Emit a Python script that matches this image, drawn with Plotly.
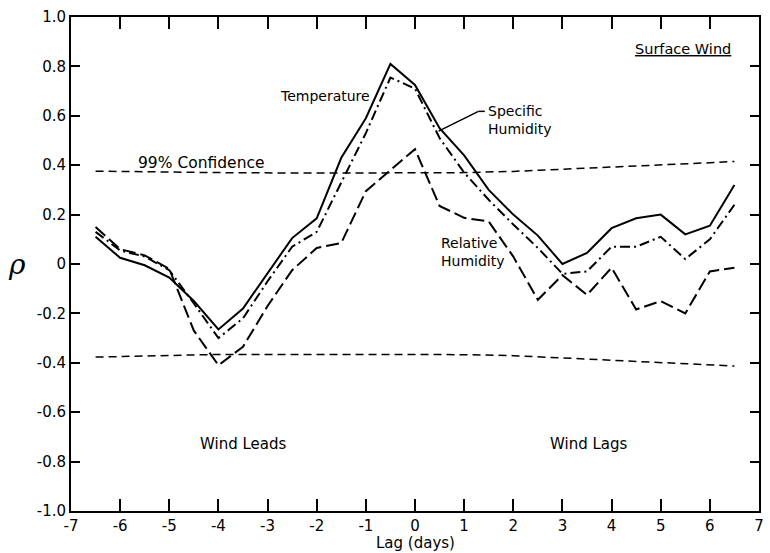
import plotly.graph_objects as go

# ---- data ----
lags = [-6.5, -6, -5.5, -5, -4.5, -4, -3.5, -3, -2.5, -2, -1.5, -1, -0.5,
        0, 0.5, 1, 1.5, 2, 2.5, 3, 3.5, 4, 4.5, 5, 5.5, 6, 6.5]

temperature = [0.11, 0.025, -0.005, -0.055, -0.15, -0.265, -0.18, -0.04, 0.105,
               0.185, 0.43, 0.59, 0.81, 0.725, 0.55, 0.44, 0.30, 0.20, 0.115,
               0.0, 0.045, 0.145, 0.185, 0.20, 0.12, 0.155, 0.32]

specific_humidity = [0.13, 0.055, 0.03, -0.025, -0.16, -0.30, -0.22, -0.07, 0.07,
                     0.13, 0.33, 0.53, 0.755, 0.71, 0.51, 0.37, 0.26, 0.16, 0.065,
                     -0.04, -0.03, 0.07, 0.07, 0.11, 0.02, 0.10, 0.24]

relative_humidity = [0.15, 0.06, 0.035, -0.02, -0.27, -0.41, -0.335, -0.17, -0.025,
                     0.065, 0.085, 0.295, 0.38, 0.465, 0.235, 0.187, 0.172, 0.03,
                     -0.145, -0.045, -0.125, -0.015, -0.184, -0.15, -0.20, -0.03, -0.015]

conf_lags = [-6.5, -5, -4, -2, 0, 1, 2, 3, 4, 5, 6, 6.5]
conf_upper = [0.376, 0.372, 0.370, 0.368, 0.368, 0.370, 0.375, 0.383, 0.392, 0.402, 0.410, 0.415]
conf_lower = [-0.377, -0.370, -0.366, -0.366, -0.366, -0.367, -0.371, -0.380, -0.390, -0.398, -0.407, -0.413]

x_ticks = [-7, -6, -5, -4, -3, -2, -1, 0, 1, 2, 3, 4, 5, 6, 7]
y_ticks = [1.0, 0.8, 0.6, 0.4, 0.2, 0, -0.2, -0.4, -0.6, -0.8, -1.0]
y_ticktext = ["1.0", "0.8", "0.6", "0.4", "0.2", "0", "-0.2", "-0.4", "-0.6", "-0.8", "-1.0"]

FONT = "DejaVu Sans"
BLACK = "black"

fig = go.Figure()

fig.add_trace(go.Scatter(x=conf_lags, y=conf_upper, mode="lines",
                         line=dict(color=BLACK, width=1.5, dash="8px,5px"), hoverinfo="skip"))
fig.add_trace(go.Scatter(x=conf_lags, y=conf_lower, mode="lines",
                         line=dict(color=BLACK, width=1.5, dash="8px,5px"), hoverinfo="skip"))
fig.add_trace(go.Scatter(x=lags, y=relative_humidity, mode="lines", name="Relative Humidity",
                         line=dict(color=BLACK, width=2, dash="13px,5px")))
fig.add_trace(go.Scatter(x=lags, y=specific_humidity, mode="lines", name="Specific Humidity",
                         line=dict(color=BLACK, width=2, dash="10px,4px,2px,4px")))
fig.add_trace(go.Scatter(x=lags, y=temperature, mode="lines", name="Temperature",
                         line=dict(color=BLACK, width=2)))

# mirrored axes with ticks on top/right
fig.update_layout(
    width=770, height=553,
    margin=dict(l=71, r=6, t=17, b=42),
    paper_bgcolor="white", plot_bgcolor="white",
    showlegend=False,
    font=dict(family=FONT, color=BLACK, size=15),
    xaxis=dict(range=[-7, 7], tickvals=x_ticks, ticktext=[str(v) for v in x_ticks],
               ticks="inside", ticklen=12, tickwidth=2, tickcolor=BLACK,
               showline=True, linecolor=BLACK, linewidth=2, mirror="ticks",
               showgrid=False, zeroline=False, tickfont=dict(size=15)),
    yaxis=dict(range=[-1.0, 1.0], tickvals=y_ticks, ticktext=y_ticktext,
               ticks="inside", ticklen=9, tickwidth=2, tickcolor=BLACK,
               showline=True, linecolor=BLACK, linewidth=2, mirror="ticks",
               showgrid=False, zeroline=False, tickfont=dict(size=15)),
)

ann = [
    dict(text="99% Confidence", x=-4.35, y=0.41, xref="x", yref="y", showarrow=False,
         font=dict(size=15.5)),
    dict(text="Temperature", x=-1.83, y=0.68, xref="x", yref="y", showarrow=False,
         font=dict(size=14)),
    dict(text="Specific<br>Humidity", x=1.45, y=0.585, xref="x", yref="y", xanchor="left",
         align="left", showarrow=False, font=dict(size=14)),
    dict(text="Relative<br>Humidity", x=1.17, y=0.05, xref="x", yref="y",
         align="left", showarrow=False, font=dict(size=14)),
    dict(text="Wind Leads", x=-3.5, y=-0.73, xref="x", yref="y", showarrow=False,
         font=dict(size=15)),
    dict(text="Wind Lags", x=3.55, y=-0.73, xref="x", yref="y", showarrow=False,
         font=dict(size=15)),
    dict(text="<u>Surface Wind</u>", x=5.45, y=0.87, xref="x", yref="y", showarrow=False,
         font=dict(size=14.5)),
    dict(text="Lag (days)", x=0.5, y=-0.065, xref="paper", yref="paper", showarrow=False,
         yanchor="middle", font=dict(size=15)),
    dict(text="<i>ρ</i>", x=-0.095, y=0.5, xref="paper", yref="paper", showarrow=False,
         font=dict(size=28, family="DejaVu Serif")),
]
fig.update_layout(annotations=ann)

# leader line for "Specific Humidity"
fig.add_shape(type="line", xref="x", yref="y", x0=0.48, y0=0.538, x1=1.29, y1=0.618,
              line=dict(color=BLACK, width=1.5))
fig.add_shape(type="line", xref="x", yref="y", x0=1.29, y0=0.618, x1=1.42, y1=0.618,
              line=dict(color=BLACK, width=1.5))

fig.write_html("out.html")
